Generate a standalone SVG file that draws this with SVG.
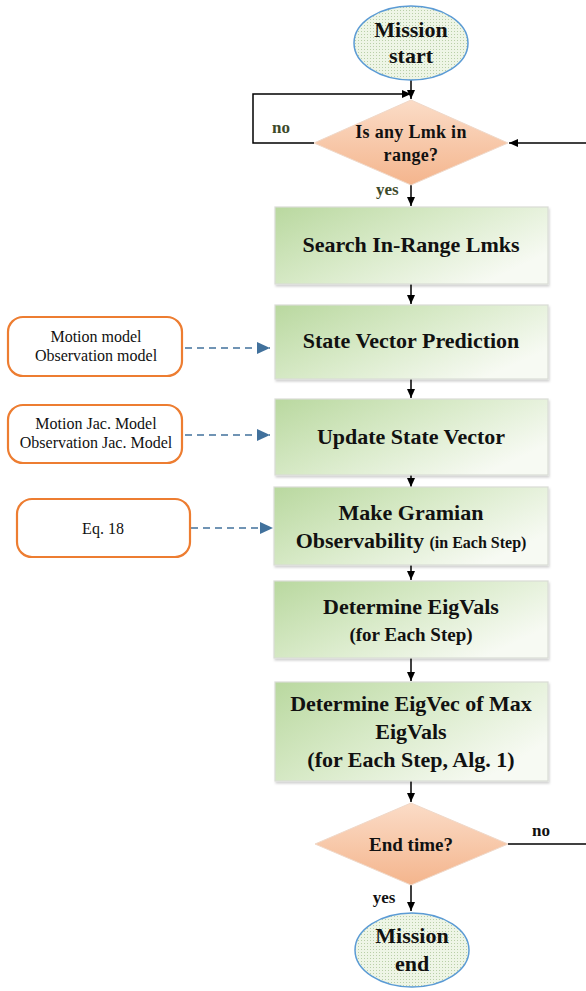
<svg xmlns="http://www.w3.org/2000/svg" width="586" height="991" viewBox="0 0 586 991">
<style>
.t{font-family:"Liberation Serif","Times New Roman",serif;font-weight:bold;fill:#111;text-anchor:middle}
.s{font-family:"Liberation Serif","Times New Roman",serif;fill:#111;text-anchor:middle;font-size:16px}
.box{fill:url(#gg);stroke:#d9dcd6;stroke-width:1.2;filter:url(#sh)}
.dia{fill:url(#pg);stroke:#f0d8c8;stroke-width:1}
.ell{fill:url(#dots);stroke:#5b9bd5;stroke-width:1.5}
.inp{fill:#fff;stroke:#ed7d31;stroke-width:2.2}
.c{stroke:#000;stroke-width:1.5;fill:none}
.d{stroke:#41719c;stroke-width:1.5;fill:none;stroke-dasharray:7,5}
.lab{font-family:"Liberation Serif","Times New Roman",serif;font-weight:bold;font-size:17px}
</style>
<defs>
<linearGradient id="gg" x1="0" y1="0" x2="1" y2="0.6">
<stop offset="0" stop-color="#b9d89f"/>
<stop offset="0.5" stop-color="#d8eac8"/>
<stop offset="1" stop-color="#f7faf3"/>
</linearGradient>
<linearGradient id="pg" x1="0" y1="0" x2="0" y2="1">
<stop offset="0" stop-color="#fbdcc7"/>
<stop offset="1" stop-color="#f4b58d"/>
</linearGradient>
<pattern id="dots" width="3" height="3" patternUnits="userSpaceOnUse">
<rect width="3" height="3" fill="#eef5e6"/>
<rect x="1" y="1" width="1" height="1" fill="#b9cfa8"/>
</pattern>
<filter id="sh" x="-5%" y="-5%" width="112%" height="120%">
<feDropShadow dx="1" dy="2" stdDeviation="1.2" flood-color="#000" flood-opacity="0.18"/>
</filter>
<marker id="a" markerWidth="10" markerHeight="10" refX="9" refY="5" orient="auto" markerUnits="userSpaceOnUse">
<path d="M0,1 L9,5 L0,9 Z" fill="#000"/>
</marker>
<marker id="ab" markerWidth="14" markerHeight="12" refX="13" refY="6" orient="auto" markerUnits="userSpaceOnUse">
<path d="M0,0 L13,6 L0,12 Z" fill="#41719c"/>
</marker>
</defs>

<g id="connectors">
<line class="c" x1="411" y1="80" x2="411" y2="99" marker-end="url(#a)"/>
<polyline class="c" points="314,143 253,143 253,94 411,94" marker-end="url(#a)" stroke-width="1.3"/>
<line class="c" x1="586" y1="143" x2="509" y2="143" marker-end="url(#a)" stroke-width="2"/>
<line class="c" x1="411" y1="184" x2="411" y2="206" marker-end="url(#a)"/>
<line class="c" x1="411" y1="284" x2="411" y2="304" marker-end="url(#a)"/>
<line class="c" x1="411" y1="379" x2="411" y2="398" marker-end="url(#a)"/>
<line class="c" x1="411" y1="475" x2="411" y2="487" marker-end="url(#a)"/>
<line class="c" x1="411" y1="565" x2="411" y2="580" marker-end="url(#a)"/>
<line class="c" x1="411" y1="658" x2="411" y2="681" marker-end="url(#a)"/>
<line class="c" x1="411" y1="781" x2="411" y2="802" marker-end="url(#a)"/>
<line class="c" x1="508" y1="844" x2="586" y2="844"/>
<line class="c" x1="411" y1="885" x2="411" y2="911" marker-end="url(#a)"/>
<line class="d" x1="185" y1="348" x2="270" y2="348" marker-end="url(#ab)"/>
<line class="d" x1="185" y1="435" x2="270" y2="435" marker-end="url(#ab)"/>
<line class="d" x1="191" y1="528" x2="273" y2="528" marker-end="url(#ab)"/>
<text class="lab" x="272" y="133" fill="#3d4a2a">no</text>
<text class="lab" x="376" y="195" fill="#3d4a2a">yes</text>
<text class="lab" x="541" y="836" fill="#111" text-anchor="middle">no</text>
<text class="lab" x="384" y="903" fill="#111" text-anchor="middle">yes</text>
</g>

<g id="start">
<ellipse class="ell" cx="411" cy="43" rx="57" ry="37"/>
<text class="t" x="411" y="37" font-size="22">Mission</text>
<text class="t" x="411" y="63" font-size="22">start</text>
</g>

<g id="inrange">
<polygon class="dia" points="411,100 508,143 411,185 314,143"/>
<text class="t" x="411" y="138" font-size="18" letter-spacing="0.3">Is any Lmk in</text>
<text class="t" x="411" y="161" font-size="18" letter-spacing="0.3">range?</text>
</g>

<g id="search">
<rect class="box" x="275" y="207" width="273" height="77"/>
<text class="t" x="411" y="252" font-size="22">Search In-Range Lmks</text>
</g>

<g id="predict">
<rect class="box" x="275" y="305" width="273" height="74"/>
<text class="t" x="411" y="348" font-size="22">State Vector Prediction</text>
</g>

<g id="update">
<rect class="box" x="275" y="399" width="273" height="76"/>
<text class="t" x="411" y="444" font-size="22">Update State Vector</text>
</g>

<g id="gramian">
<rect class="box" x="274" y="487" width="274" height="78"/>
<text class="t" x="411" y="520" font-size="22">Make Gramian</text>
<text class="t" x="411" y="548" font-size="22">Observability <tspan font-size="16">(in Each Step)</tspan></text>
</g>

<g id="eigvals">
<rect class="box" x="274" y="581" width="274" height="77"/>
<text class="t" x="411" y="614" font-size="22">Determine EigVals</text>
<text class="t" x="411" y="641" font-size="19">(for Each Step)</text>
</g>

<g id="eigvec">
<rect class="box" x="275" y="682" width="273" height="99"/>
<text class="t" x="411" y="711" font-size="22">Determine EigVec of Max</text>
<text class="t" x="411" y="739" font-size="22">EigVals</text>
<text class="t" x="411" y="767" font-size="22">(for Each Step, Alg. 1)</text>
</g>

<g id="endtime">
<polygon class="dia" points="411,803 508,844 411,885 315,844"/>
<text class="t" x="411" y="851" font-size="19">End time?</text>
</g>

<g id="end">
<ellipse class="ell" cx="412" cy="950" rx="57" ry="37"/>
<text class="t" x="412" y="943" font-size="22">Mission</text>
<text class="t" x="412" y="971" font-size="22">end</text>
</g>

<g id="in1">
<rect class="inp" x="8" y="317" width="174" height="59" rx="15"/>
<text class="s" x="96" y="342">Motion model</text>
<text class="s" x="96" y="361">Observation model</text>
</g>

<g id="in2">
<rect class="inp" x="8" y="405" width="174" height="58" rx="15"/>
<text class="s" x="96" y="429">Motion Jac. Model</text>
<text class="s" x="96" y="448">Observation Jac. Model</text>
</g>

<g id="in3">
<rect class="inp" x="17" y="499" width="173" height="58" rx="15"/>
<text class="s" x="103" y="534">Eq. 18</text>
</g>
</svg>
